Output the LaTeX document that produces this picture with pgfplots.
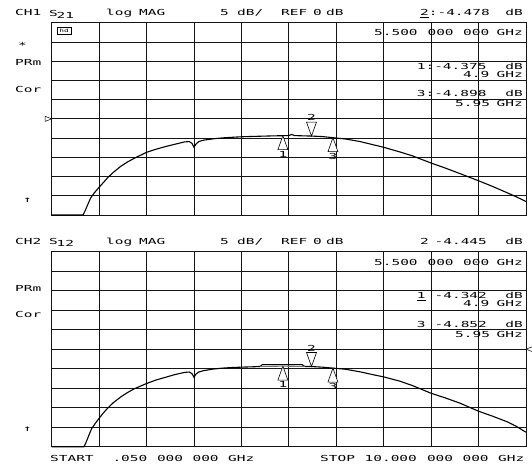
\documentclass[border=0pt]{standalone}
\usepackage{pgfplots}
\pgfplotsset{compat=1.18}
\usepackage{fontspec}
\newfontfamily\hp[FakeStretch=1.74]{DejaVu Sans Mono}
\newcommand\hpf{\hp\fontsize{8.3}{9}\selectfont}

\pgfdeclareplotmark{mkup}{%
  \pgfpathmoveto{\pgfpoint{0pt}{0pt}}%
  \pgfpathlineto{\pgfpoint{-5pt}{-14pt}}%
  \pgfpathlineto{\pgfpoint{5pt}{-14pt}}%
  \pgfpathclose\pgfusepathqfillstroke}
\pgfdeclareplotmark{mkdown}{%
  \pgfpathmoveto{\pgfpoint{0pt}{0pt}}%
  \pgfpathlineto{\pgfpoint{-5pt}{14pt}}%
  \pgfpathlineto{\pgfpoint{5pt}{14pt}}%
  \pgfpathclose\pgfusepathqfillstroke}
\pgfdeclareplotmark{refR}{%
  \pgfpathmoveto{\pgfpoint{0pt}{0pt}}%
  \pgfpathlineto{\pgfpoint{-6.5pt}{2.5pt}}%
  \pgfpathlineto{\pgfpoint{-6.5pt}{-2.5pt}}%
  \pgfpathclose\pgfusepathqstroke}
\pgfdeclareplotmark{refL}{%
  \pgfpathmoveto{\pgfpoint{0pt}{0pt}}%
  \pgfpathlineto{\pgfpoint{6.5pt}{2.5pt}}%
  \pgfpathlineto{\pgfpoint{6.5pt}{-2.5pt}}%
  \pgfpathclose\pgfusepathqstroke}

\pgfplotsset{hpaxis/.style={
  scale only axis, width=474.3pt, anchor=south west,
  xmin=0.05, xmax=10, ymin=-25, ymax=25,
  xtick={0.05,1.045,2.04,3.035,4.03,5.025,6.02,7.015,8.01,9.005,10},
  ytick={-25,-20,-15,-10,-5,0,5,10,15,20,25},
  xticklabels={}, yticklabels={}, major tick length=0pt,
  grid=major, major grid style={black!92, line width=0.8pt},
  axis line style={black!92, line width=0.8pt},
  clip=false},
  trace/.style={black, line width=1.1pt, mark=none},
  mk1/.style={only marks, mark=mkup, mark options={fill=white, draw=black, line width=0.6pt},
    point meta=explicit symbolic, nodes near coords,
    nodes near coords style={anchor=north, yshift=-15pt, font=\hpf, inner sep=0pt}},
  mk2/.style={only marks, mark=mkdown, mark options={fill=white, draw=black, line width=0.6pt},
    point meta=explicit symbolic, nodes near coords,
    nodes near coords style={anchor=south, yshift=15pt, font=\hpf, inner sep=0pt}}
}

\newcommand\T[3]{\node[anchor=base west] at (#1pt,{(469-#2)*1pt}) {#3};}
\newcommand\R[3]{\node[anchor=base east] at (#1pt,{(469-#2)*1pt}) {#3};}

\begin{document}
\begin{tikzpicture}[every node/.style={font=\hpf, inner sep=0pt}]
\path[use as bounding box] (0pt,0pt) rectangle (532pt,469pt);

% ---------------- top panel ----------------
\begin{axis}[hpaxis, at={(51.7pt,254pt)}, height=192.3pt]
\addplot[trace] coordinates {
(0.05,-25) (0.707,-25) (0.747,-24.0) (0.806,-22.3) (0.866,-20.6) (0.946,-19.2)
(1.045,-17.8) (1.145,-16.4) (1.224,-15.3) (1.344,-13.9) (1.503,-12.3) (1.642,-11.2)
(1.791,-10.2) (2.04,-8.7) (2.239,-7.9) (2.438,-7.2) (2.637,-6.6) (2.836,-6.0)
(2.936,-5.9) (2.995,-6.4) (3.035,-7.4) (3.075,-6.6) (3.135,-5.9) (3.234,-5.55)
(3.433,-5.2) (3.632,-4.95) (3.831,-4.8) (4.03,-4.66) (4.329,-4.55) (4.627,-4.45)
(4.9,-4.375) (5.025,-4.35) (5.085,-4.05) (5.144,-4.35) (5.324,-4.42) (5.5,-4.478)
(5.722,-4.6) (5.95,-4.898) (6.219,-5.25) (6.518,-5.9) (6.816,-6.8) (7.015,-7.4)
(7.353,-8.6) (7.612,-9.6) (8.01,-11.5) (8.309,-12.8) (8.607,-14.2) (9.005,-16.1)
(9.304,-17.6) (9.602,-19.2) (9.801,-20.3) (10,-21.5)
};
\addplot[mk1] coordinates {(4.9,-4.375)[1] (5.95,-4.898)[3]};
\addplot[mk2] coordinates {(5.5,-4.478)[2]};
\addplot[only marks, mark=refR, mark options={black, line width=0.5pt}] coordinates {(0.05,0)};
\end{axis}

% ---------------- bottom panel ----------------
\begin{axis}[hpaxis, at={(51.7pt,22.3pt)}, height=195pt]
\addplot[trace] coordinates {
(0.05,-25) (0.727,-25) (0.767,-24.0) (0.826,-22.2) (0.886,-20.4) (0.966,-19.0)
(1.045,-17.7) (1.145,-16.2) (1.224,-15.1) (1.344,-13.7) (1.503,-12.2) (1.642,-11.1)
(1.791,-10.1) (2.04,-8.8) (2.239,-7.9) (2.438,-7.2) (2.637,-6.5) (2.836,-5.95)
(2.936,-5.85) (2.995,-6.3) (3.035,-7.2) (3.075,-6.4) (3.135,-5.85) (3.234,-5.5)
(3.433,-5.1) (3.632,-4.85) (3.831,-4.7) (4.03,-4.6) (4.3,-4.5) (4.42,-4.42)
(4.47,-3.95) (5.3,-3.95) (5.36,-4.42) (5.5,-4.445)
(5.722,-4.6) (5.95,-4.852) (6.219,-5.15) (6.518,-5.8) (6.816,-6.6) (7.015,-7.1)
(7.353,-8.2) (7.612,-9.3) (8.01,-11.3) (8.309,-12.5) (8.607,-13.8) (9.005,-15.9)
(9.304,-17.2) (9.602,-18.6) (9.801,-19.8) (10,-21.3)
};
\addplot[black!55, line width=1.1pt] coordinates {(4.42,-4.42) (4.9,-4.342) (5.36,-4.42)};
\addplot[mk1] coordinates {(4.9,-4.342)[1] (5.95,-4.852)[3]};
\addplot[mk2] coordinates {(5.5,-4.445)[2]};
\addplot[only marks, mark=refL, mark options={black, line width=0.5pt}] coordinates {(10,0)};
\end{axis}

% ---------------- top texts ----------------
\T{15}{16}{CH1}
\T{49}{16.3}{S}\T{56.5}{18.5}{21}
\T{106}{16}{log}\T{139}{16}{MAG}
\T{220}{16}{5}\T{237}{16}{dB/}
\T{281}{16}{REF}\T{313}{16}{0}\T{326}{16}{dB}
\T{420}{16}{\underline{2}:-4.478}\R{523}{16}{dB}
\node[draw, line width=0.4pt, minimum width=14pt, minimum height=7pt, font=\hp\fontsize{4.5}{5}\selectfont] at (64pt,{(469-31)*1pt}) {hd};
\T{18}{49}{*}
\T{15}{66}{PRm}
\T{15}{92.5}{Cor}
\T{23}{203}{↑}
\T{374}{36}{5.500}\T{427.4}{36}{000}\T{463}{36}{000}\R{523}{36}{GHz}
\T{416.7}{69.5}{1:-4.375}\R{523}{69.5}{dB}
\T{463}{77.5}{4.9}\R{523}{77.5}{GHz}
\T{416.7}{97}{3:-4.898}\R{523}{97}{dB}
\T{455}{107}{5.95}\R{523}{107}{GHz}

% ---------------- bottom texts ----------------
\T{15}{244}{CH2}
\T{49}{244.3}{S}\T{56.5}{246.5}{12}
\T{106}{244}{log}\T{139}{244}{MAG}
\T{220}{244}{5}\T{237}{244}{dB/}
\T{281}{244}{REF}\T{313}{244}{0}\T{326}{244}{dB}
\T{420}{244}{2}\T{434.5}{244}{-4.445}\R{523}{244}{dB}
\T{15}{291.5}{PRm}
\T{15}{317}{Cor}
\T{23}{431}{↑}
\T{374}{265}{5.500}\T{427.4}{265}{000}\T{463}{265}{000}\R{523}{265}{GHz}
\T{416.7}{298.5}{\underline{1}}\T{434.5}{298.5}{-4.342}\R{523}{298.5}{dB}
\T{463}{306.5}{4.9}\R{523}{306.5}{GHz}
\T{416.7}{327}{3}\T{434.5}{327}{-4.852}\R{523}{327}{dB}
\T{455}{337}{5.95}\R{523}{337}{GHz}

% ---------------- footer ----------------
\T{50}{461.5}{START}\T{112.3}{461.5}{.050}\T{156.8}{461.5}{000}\T{192.4}{461.5}{000}\T{228}{461.5}{GHz}
\T{320}{461.5}{STOP}\T{364.5}{461.5}{10.000}\T{426.8}{461.5}{000}\T{462.4}{461.5}{000}\T{498}{461.5}{GHz}
\end{tikzpicture}
\end{document}
